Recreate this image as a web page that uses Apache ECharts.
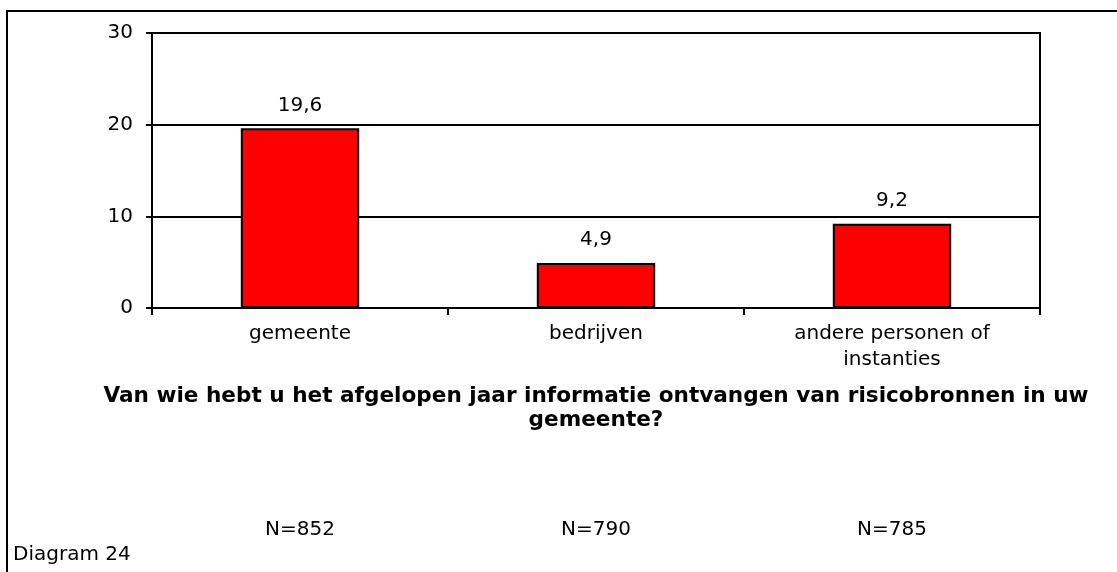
<!DOCTYPE html>
<html>
<head>
<meta charset="utf-8">
<script src="https://cdn.jsdelivr.net/npm/echarts@6/dist/echarts.min.js"></script>
<style>
  html, body { margin: 0; padding: 0; background: #fff; }
  #chart { width: 1117px; height: 572px; }
</style>
</head>
<body>
<div id="chart"></div>
<script>
// data
var categories = ["gemeente", "bedrijven", "andere personen of\ninstanties"];
var values = [19.6, 4.9, 9.2];
var nLabels = ["N=852", "N=790", "N=785"];
var yTicks = [0, 10, 20, 30];
var chartTitle = "Van wie hebt u het afgelopen jaar informatie ontvangen van risicobronnen in uw\ngemeente?";
var footnote = "Diagram 24";

var font = "DejaVu Sans, Verdana, sans-serif";
var fs = 20;

var chart = echarts.init(document.getElementById("chart"));

var option = {
  animation: false,
  textStyle: { fontFamily: font },
  title: [
    {
      text: chartTitle,
      left: 596,
      top: 384,
      padding: 0,
      textAlign: "center",
      textStyle: { fontFamily: font, fontSize: 21.6, fontWeight: "bold", color: "#000", lineHeight: 24, align: "center" }
    },
    {
      text: footnote,
      left: 13,
      top: 545,
      padding: 0,
      textStyle: { fontFamily: font, fontSize: fs, fontWeight: "normal", color: "#000" }
    }
  ],
  graphic: [
    { type: "line", shape: { x1: 6, y1: 11, x2: 1117, y2: 11 }, style: { stroke: "#000", lineWidth: 2 } },
    { type: "line", shape: { x1: 7, y1: 10, x2: 7, y2: 572 }, style: { stroke: "#000", lineWidth: 2 } }
  ],
  grid: {
    left: 152,
    right: 77,
    top: 33,
    bottom: 264,
    show: true,
    borderColor: "#000",
    borderWidth: 2
  },
  xAxis: [
    {
      type: "category",
      data: categories,
      axisLine: { lineStyle: { color: "#000", width: 2 } },
      axisTick: { show: true, length: 7, lineStyle: { color: "#000", width: 2 } },
      axisLabel: { color: "#000", fontSize: fs, fontFamily: font, margin: 13, lineHeight: 26 }
    },
    {
      type: "category",
      position: "bottom",
      offset: 212,
      data: nLabels,
      axisLine: { show: false },
      axisTick: { show: false },
      axisLabel: { color: "#000", fontSize: fs, fontFamily: font, margin: 0 }
    }
  ],
  yAxis: {
    type: "value",
    min: yTicks[0],
    max: yTicks[yTicks.length - 1],
    interval: 10,
    axisLine: { show: true, lineStyle: { color: "#000", width: 2 } },
    axisTick: { show: true, length: 6, lineStyle: { color: "#000", width: 2 } },
    axisLabel: { color: "#000", fontSize: fs, fontFamily: font, margin: 19 },
    splitLine: { show: true, lineStyle: { color: "#000", width: 2 } }
  },
  series: [
    {
      type: "bar",
      data: values,
      barWidth: "40%",
      itemStyle: { color: "#ff0000", borderColor: "#000", borderWidth: 2 },
      label: {
        show: true,
        position: "top",
        distance: 13,
        color: "#000",
        fontSize: fs,
        fontFamily: font,
        formatter: function (p) { return String(p.value).replace(".", ","); }
      }
    }
  ]
};

chart.setOption(option);
</script>
</body>
</html>
